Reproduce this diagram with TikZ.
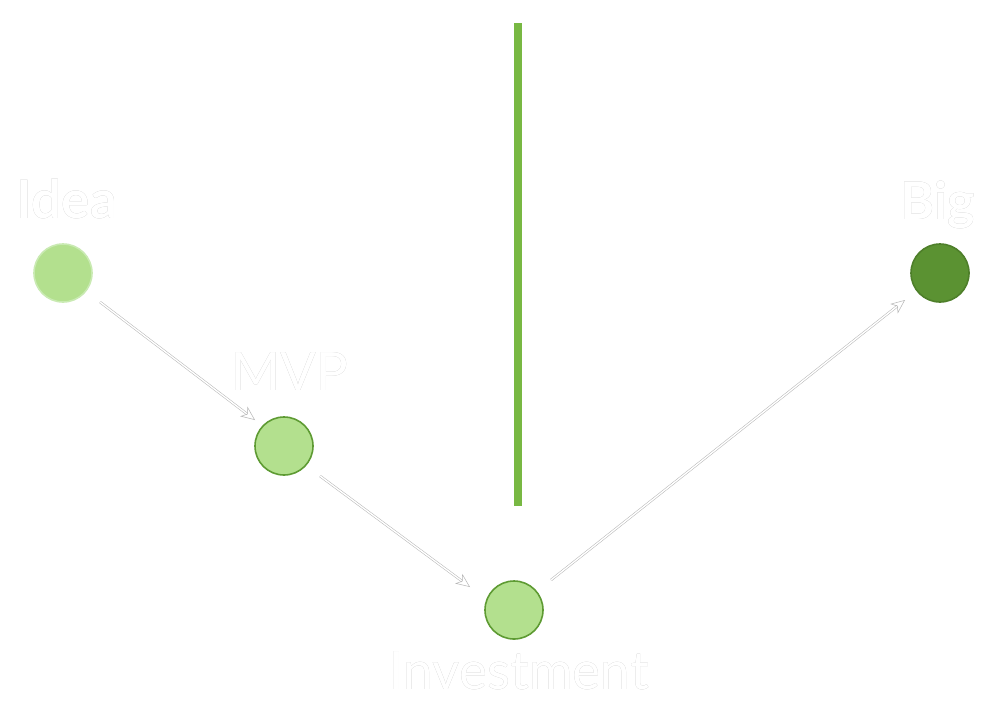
\documentclass[tikz,border=0pt]{standalone}
\usepackage{fontspec}
\setmainfont{Lato}
\usepackage[outline]{contour}
\usetikzlibrary{arrows.meta}
\definecolor{lightfill}{HTML}{B3E08E}
\definecolor{darkedge}{HTML}{5E9B33}
\definecolor{paleedge}{HTML}{C9EAB2}
\definecolor{bigfill}{HTML}{5B9232}
\definecolor{bigedge}{HTML}{4E7F2A}
\definecolor{barcol}{HTML}{78B843}
\definecolor{outl}{HTML}{B4B4B4}
\contourlength{0.6pt}
\newcommand{\outlined}[1]{\contour{outl}{\textcolor{white}{#1}}}
\begin{document}
\begin{tikzpicture}[x=1pt,y=-1pt,
  stage/.style={circle,minimum size=58pt,inner sep=0pt,fill=lightfill,draw=darkedge,line width=1.6pt},
  lbl/.style={inner sep=0pt,font=\fontsize{53}{60}\selectfont},
  conn/.style={draw=outl,double=white,double distance=1.4pt,line width=0.5pt,
    -{Stealth[open,length=14pt,width=12pt,inset=4pt]}}]
\useasboundingbox (0,0) rectangle (990,716);
\fill[white] (0,0) rectangle (990,716);
\node[stage,draw=paleedge] (idea) at (63,273) {};
\node[stage] (mvp) at (284,446) {};
\node[stage] (inv) at (514,610) {};
\node[stage,fill=bigfill,draw=bigedge] (big) at (940,273) {};
\coordinate (bartop) at (518,23);
\coordinate (barbot) at (518,506);
\draw[barcol,line width=8pt] (bartop) -- (barbot);
\node[lbl,font=\fontsize{53}{60}\selectfont\bfseries,anchor=base] (tidea) at (67,218) {\outlined{Idea}};
\node[lbl,anchor=base] (tmvp) at (290,390) {\outlined{MVP}};
\node[lbl,anchor=base] (tinv) at (519,689) {\outlined{Investment}};
\node[lbl,font=\fontsize{52}{60}\selectfont\bfseries,anchor=base] (tbig) at (938,219) {\outlined{Big}};
\coordinate (a1) at (100,302); \coordinate (a2) at (255,420);
\coordinate (b1) at (320,476); \coordinate (b2) at (470,587);
\coordinate (c1) at (551,580); \coordinate (c2) at (905,300);
\draw[conn] (a1) -- (a2);
\draw[conn] (b1) -- (b2);
\draw[conn] (c1) -- (c2);
\end{tikzpicture}
\end{document}
